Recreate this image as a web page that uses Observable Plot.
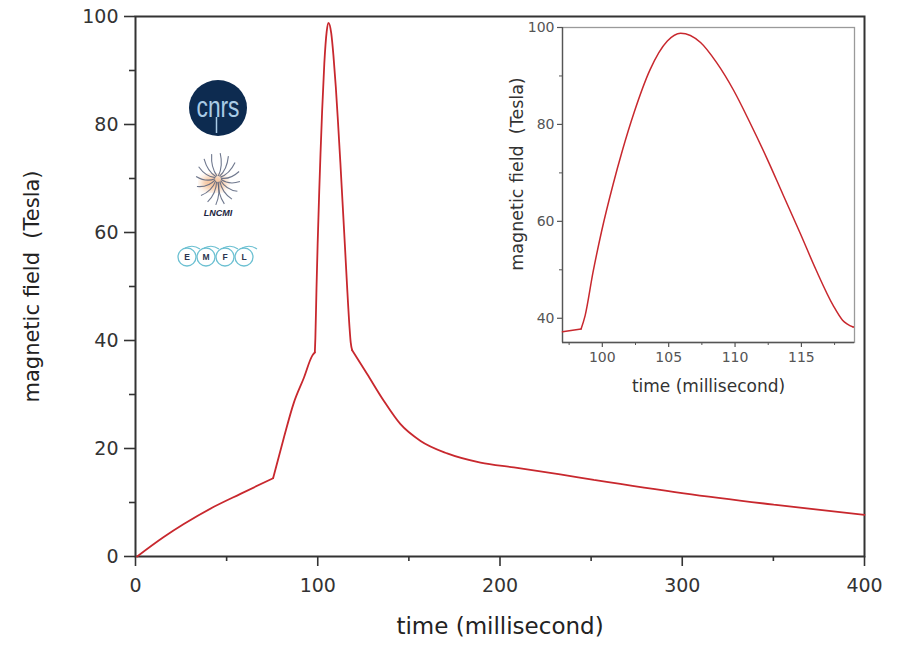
<!DOCTYPE html>
<html>
<head>
<meta charset="utf-8">
<script src="https://cdn.jsdelivr.net/npm/d3@7"></script>
<script src="https://cdn.jsdelivr.net/npm/@observablehq/plot@0.6"></script>
<style>
  body { margin: 0; background: #fff; }
  #wrap { position: relative; width: 899px; height: 647px; overflow: hidden; background: #fff; }
  #wrap svg { position: absolute; left: 0; top: 0; }
  svg text { white-space: pre; }
</style>
</head>
<body>
<div id="wrap"></div>
<script>
// ---- data ----
const time  = [0.9, 15.5, 26.5, 43, 57.6, 75.5, 81.4, 86.9, 92.4, 97, 98.4, 98.7, 99.3, 99.95, 100.8, 101.5, 102.4, 103.6, 104.9, 105.9,
               107.4, 108.6, 109.9, 111.1, 112.4, 113.6, 114.9, 116.1, 117.4, 118.1, 118.9,
               127.1, 136.3, 145.4, 156.4, 171, 189.3, 207.6, 233, 251.5, 300.9, 350.2, 400];
const field = [0, 3.6, 6.0, 9.2, 11.6, 14.5, 22.0, 28.5, 33.1, 37.2, 37.8, 40.5, 49.5, 58, 67.5, 74.5, 82.5, 91.3, 97.2, 98.8,
               96.9, 92.8, 87.0, 80.5, 73.0, 65.6, 57.6, 50.0, 42.6, 39.6, 38.2,
               33.8, 28.8, 24.5, 21.4, 19.1, 17.4, 16.5, 15.2, 14.2, 11.7, 9.6, 7.7];
// times where the pulse changes regime (sharp corners in the trace)
const kinks = [75.5, 98.4, 118.9];

const xTicksMain = [0, 100, 200, 300, 400];
const xMinorMain = [50, 150, 250, 350];
const yTicksMain = [0, 20, 40, 60, 80, 100];
const yMinorMain = [10, 30, 50, 70, 90];

const xTicksInset = [100, 105, 110, 115];
const xMinorInset = [97.5, 102.5, 107.5, 112.5, 117.5];
const yTicksInset = [40, 60, 80, 100];
const yMinorInset = [50, 70, 90];

const xLabel = ["time (millisecond)"];
const yLabel = ["magnetic field  (Tesla)"];

// split the trace into smooth segments, sharing the corner points
const rows = [];
time.forEach((t, i) => {
  let seg = kinks.filter(k => t > k).length;
  rows.push({t, b: field[i], seg});
  if (kinks.includes(t)) rows.push({t, b: field[i], seg: seg + 1});
});
const insetRows = rows.filter(d => d.t >= 97 && d.t <= 119);

const RED = "#c8282e";
const wrap = document.getElementById("wrap");

// ---- main chart ----
const main = Plot.plot({
  width: 899, height: 647,
  marginLeft: 135, marginRight: 35, marginTop: 16, marginBottom: 91,
  x: {domain: [0, 400]},
  y: {domain: [0, 100]},
  style: {fontFamily: "DejaVu Sans", background: "transparent", overflow: "visible"},
  marks: [
    Plot.frame({stroke: "#333", strokeWidth: 2}),
    Plot.axisX({ticks: xTicksMain, tickSize: 10, tickPadding: 12, fontSize: 19, color: "#333", strokeWidth: 1.6, label: null}),
    Plot.axisX({ticks: xMinorMain, tickSize: 5, tickFormat: () => "", color: "#333", strokeWidth: 1.6, label: null}),
    Plot.axisY({ticks: yTicksMain, tickSize: 11, tickPadding: 6, fontSize: 19, color: "#333", strokeWidth: 1.6, label: null}),
    Plot.axisY({ticks: yMinorMain, tickSize: 6, tickFormat: () => "", color: "#333", strokeWidth: 1.6, label: null}),
    Plot.line(rows, {x: "t", y: "b", z: "seg", stroke: RED, strokeWidth: 1.8, curve: "monotone-x", strokeLinejoin: "miter"}),
    Plot.text(xLabel, {text: d => d, frameAnchor: "bottom", textAnchor: "middle", dy: 77, fontSize: 23, fill: "#222"}),
    Plot.text(yLabel, {text: d => d, frameAnchor: "left", textAnchor: "middle", dx: -103, rotate: -90, fontSize: 21, fill: "#222"})
  ]
});
wrap.appendChild(main);

// ---- inset chart ----
const inset = Plot.plot({
  width: 370, height: 400,
  marginLeft: 62, marginRight: 16, marginTop: 27, marginBottom: 58,
  x: {domain: [97, 119]},
  y: {domain: [35, 100]},
  style: {fontFamily: "DejaVu Sans", background: "transparent", overflow: "visible"},
  marks: [
    Plot.frame({stroke: "#9a9a9a", strokeWidth: 1.3}),
    Plot.axisX({ticks: xTicksInset, tickSize: 5, tickPadding: 5, fontSize: 14, color: "#555", strokeWidth: 1.2, label: null}),
    Plot.axisX({ticks: xMinorInset, tickSize: 3, tickFormat: () => "", color: "#555", strokeWidth: 1, label: null}),
    Plot.axisY({ticks: yTicksInset, tickSize: 5, tickPadding: 3, fontSize: 14, color: "#555", strokeWidth: 1.2, label: null}),
    Plot.axisY({ticks: yMinorInset, tickSize: 3, tickFormat: () => "", color: "#555", strokeWidth: 1, label: null}),
    Plot.ruleX([97], {stroke: "#555", strokeWidth: 1.3}),
    Plot.ruleY([35], {stroke: "#555", strokeWidth: 1.3}),
    Plot.line(insetRows, {x: "t", y: "b", z: "seg", stroke: RED, strokeWidth: 1.5, curve: "monotone-x"}),
    Plot.text(xLabel, {text: d => d, frameAnchor: "bottom", textAnchor: "middle", dy: 49, fontSize: 17, fill: "#333"}),
    Plot.text(yLabel, {text: d => d, frameAnchor: "left", textAnchor: "middle", dx: -45, dy: -11, rotate: -90, fontSize: 17.5, fill: "#333"})
  ]
});
inset.style.left = "500px";
inset.style.top = "0px";
wrap.appendChild(inset);

// ---- logos (decoration) ----
const logo = d3.create("svg").attr("width", 899).attr("height", 647).style("pointer-events", "none");
const defs = logo.append("defs");
defs.append("filter").attr("id", "blur").append("feGaussianBlur").attr("stdDeviation", 3);

// CNRS
logo.append("ellipse").attr("cx", 218).attr("cy", 108).attr("rx", 29).attr("ry", 28).attr("fill", "#0d2b50");
logo.append("text").attr("x", 218).attr("y", 117).attr("text-anchor", "middle")
  .attr("font-family", "Liberation Sans Narrow, Liberation Sans, sans-serif").attr("font-size", 30)
  .attr("textLength", 43).attr("lengthAdjust", "spacingAndGlyphs").attr("fill", "#a9cbe6").text("cnrs");
logo.append("line").attr("x1", 216.5).attr("y1", 117).attr("x2", 216.5).attr("y2", 133)
  .attr("stroke", "#a9cbe6").attr("stroke-width", 1.5);

// LNCMI
logo.append("ellipse").attr("cx", 214).attr("cy", 183).attr("rx", 13).attr("ry", 8)
  .attr("fill", "#f0a060").attr("opacity", 0.6).attr("filter", "url(#blur)");
const cx = 218, cy = 179;
for (let i = 0; i < 16; i++) {
  const a = (i / 16) * Math.PI * 2 + 0.1;
  const r0 = 3, rx = 22, ry = 26;
  const x0 = cx + Math.cos(a) * r0, y0 = cy + Math.sin(a) * r0;
  const x1 = cx + Math.cos(a) * rx, y1 = cy + Math.sin(a) * ry;
  const b = a + (Math.cos(a) > 0 ? 0.35 : -0.35);
  const xc = cx + Math.cos(b) * rx * 0.55, yc = cy + Math.sin(b) * ry * 0.55;
  logo.append("path").attr("d", `M${x0},${y0} Q${xc},${yc} ${x1},${y1}`)
    .attr("fill", "none").attr("stroke", "#56607a").attr("stroke-width", 1.1).attr("opacity", 0.85);
}
logo.append("text").attr("x", 218).attr("y", 216).attr("text-anchor", "middle")
  .attr("font-family", "Liberation Sans, sans-serif").attr("font-size", 9).attr("font-weight", "bold")
  .attr("font-style", "italic").attr("fill", "#1c2540").text("LNCMI");

// EMFL
const emfl = ["E", "M", "F", "L"];
emfl.forEach((ch, i) => {
  const x = 187 + i * 19, y = 257;
  logo.append("circle").attr("cx", x).attr("cy", y).attr("r", 9)
    .attr("fill", "none").attr("stroke", "#6cc0d2").attr("stroke-width", 1.3);
  logo.append("path").attr("d", `M${x - 2},${y - 9} Q${x + 6},${y - 13} ${x + 13},${y - 8}`)
    .attr("fill", "none").attr("stroke", "#6cc0d2").attr("stroke-width", 1.1);
  logo.append("text").attr("x", x).attr("y", y + 3).attr("text-anchor", "middle")
    .attr("font-family", "Liberation Sans, sans-serif").attr("font-size", 8.5).attr("font-weight", "bold")
    .attr("fill", "#2b3550").text(ch);
});
wrap.appendChild(logo.node());
</script>
</body>
</html>
